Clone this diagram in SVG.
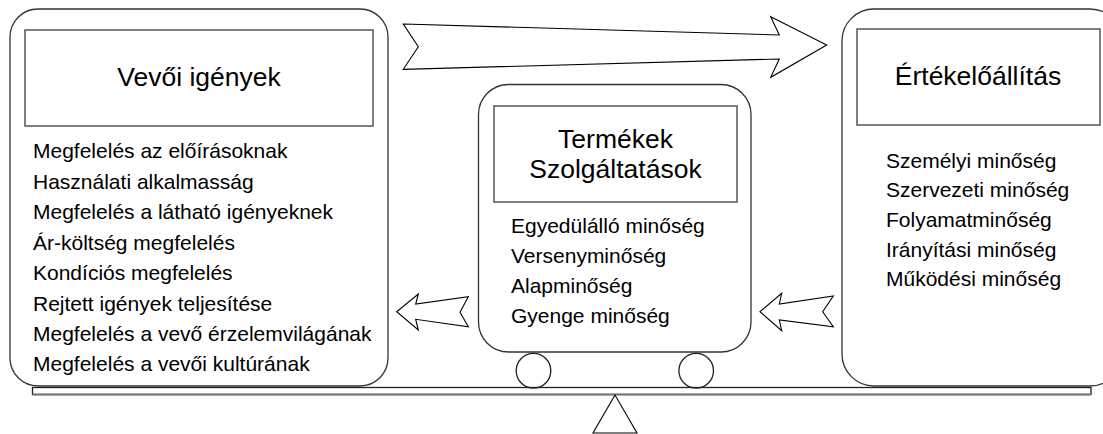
<svg xmlns="http://www.w3.org/2000/svg" width="1103" height="434" viewBox="0 0 1103 434">
<style>
.outer{fill:#fff;stroke:#333;stroke-width:1.3}
.inner{fill:#fff;stroke:#555;stroke-width:1.5}
.title{font-family:"Liberation Sans",Arial,sans-serif;font-size:26.5px;fill:#000;text-anchor:middle}
.item{font-family:"Liberation Sans",Arial,sans-serif;font-size:21px;fill:#000}
.arrow{fill:#fff;stroke:#000;stroke-width:1.1;stroke-linejoin:miter}
.line{fill:none;stroke:#222;stroke-width:1.3}
</style>
<rect width="1103" height="434" fill="#fff"/>
<g id="beam">
<rect x="32.5" y="387.5" width="1058.5" height="7" fill="#fff" stroke="#222" stroke-width="1.3"/>
<line x1="32.5" y1="394.5" x2="1091" y2="394.5" stroke="#777" stroke-width="2"/>
<polygon points="615,395 593,433 637,433" class="arrow"/>
</g>
<g id="vevoi-igenyek">
<rect class="outer" x="10" y="9" width="378" height="377" rx="28" ry="28"/>
<rect class="inner" x="25" y="30" width="348" height="96"/>
<text class="title" x="199" y="85.5">Vevői igények</text>
<text class="item" x="33" y="158.3">Megfelelés az előírásoknak</text>
<text class="item" x="33" y="188.8">Használati alkalmasság</text>
<text class="item" x="33" y="219.3">Megfelelés a látható igényeknek</text>
<text class="item" x="33" y="249.8">Ár-költség megfelelés</text>
<text class="item" x="33" y="280.2">Kondíciós megfelelés</text>
<text class="item" x="33" y="310.5">Rejtett igények teljesítése</text>
<text class="item" x="33" y="340.8">Megfelelés a vevő érzelemvilágának</text>
<text class="item" x="33" y="371">Megfelelés a vevői kultúrának</text>
</g>
<g id="termekek">
<rect class="outer" x="478.5" y="84.5" width="272.5" height="267.5" rx="30" ry="30"/>
<rect class="inner" x="494" y="106" width="243" height="96"/>
<text class="title" x="615.5" y="148">Termékek</text>
<text class="title" x="615.5" y="178">Szolgáltatások</text>
<text class="item" x="511" y="233.3">Egyedülálló minőség</text>
<text class="item" x="511" y="263.3">Versenyminőség</text>
<text class="item" x="511" y="293.3">Alapminőség</text>
<text class="item" x="511" y="323.3">Gyenge minőség</text>
<circle class="line" cx="533.5" cy="370.7" r="17.3" fill="#fff"/>
<circle class="line" cx="696.2" cy="370.7" r="17.3" fill="#fff"/>
</g>
<g id="ertekeloallitas">
<rect class="outer" x="842" y="9" width="280" height="377" rx="32" ry="32"/>
<rect class="inner" x="857" y="29" width="243" height="96"/>
<text class="title" x="978" y="85">Értékelőállítás</text>
<text class="item" x="886" y="167.5">Személyi minőség</text>
<text class="item" x="886" y="197.2">Szervezeti minőség</text>
<text class="item" x="886" y="226.9">Folyamatminőség</text>
<text class="item" x="886" y="256.6">Irányítási minőség</text>
<text class="item" x="886" y="286.3">Működési minőség</text>
</g>
<g id="connectors">
<polygon class="arrow" points="403.3,24 779.3,35 770.7,16.7 826.7,45 770.7,77.3 779.3,59 403.3,69.3 418.3,46.7"/>
<polygon class="arrow" points="396.7,311.7 418.3,294 415.7,304 468.3,296.7 460,312.3 468.3,326.7 415.7,319.3 418.3,330"/>
<polygon class="arrow" points="760,311.7 781.7,293.3 779.3,304 833.3,296 822.7,311.7 833.3,326.7 779.3,320 781.7,330.7"/>
</g>
</svg>
